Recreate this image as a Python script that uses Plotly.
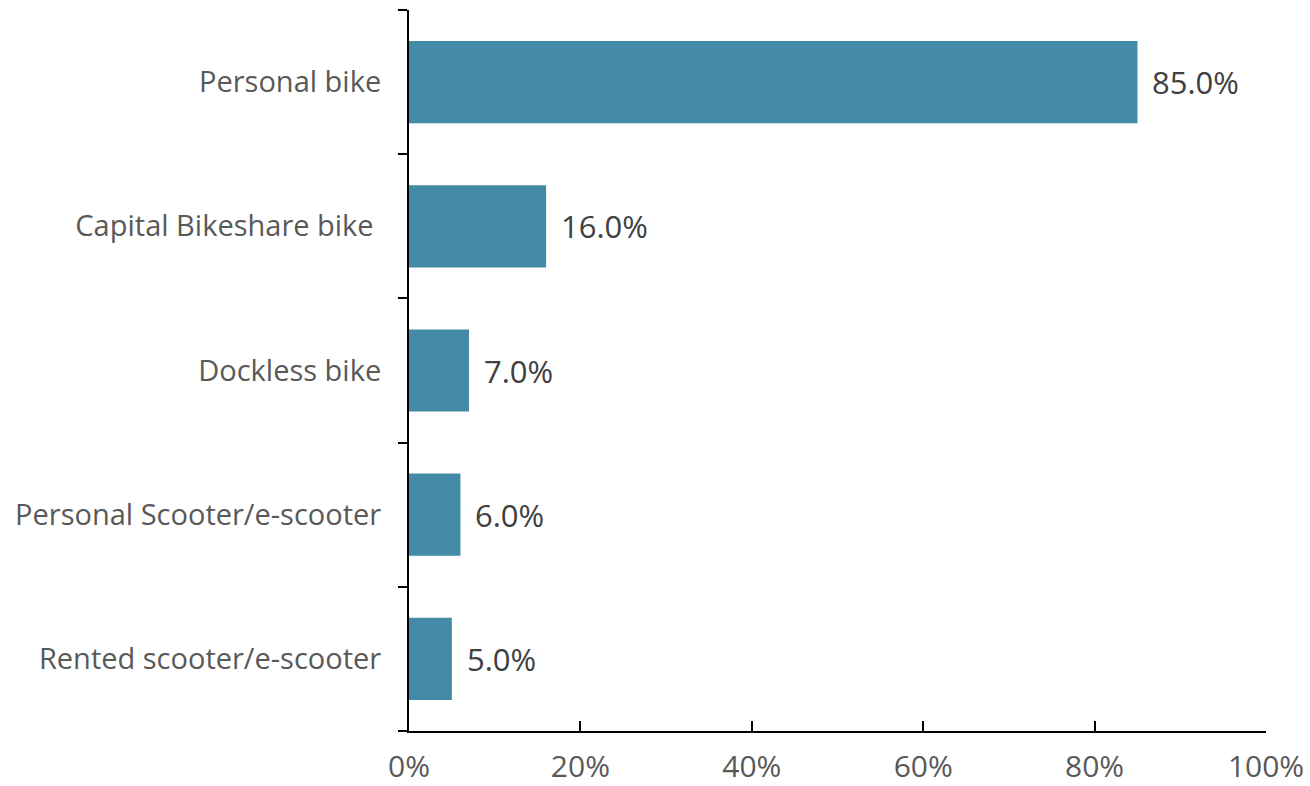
import plotly.graph_objects as go

categories = ["Personal bike", "Capital Bikeshare bike\u00a0", "Dockless bike",
              "Personal Scooter/e-scooter", "Rented scooter/e-scooter"]
values = [85.0, 16.0, 7.0, 6.0, 5.0]
x_ticks = [0, 20, 40, 60, 80, 100]
x_tick_labels = ["0%", "20%", "40%", "60%", "80%", "100%"]

FONT = "Open Sans"
fig = go.Figure()
fig.add_trace(go.Bar(
    x=values, y=categories, orientation="h",
    marker=dict(color="#438AA7", line=dict(width=0)),
    width=0.57, hoverinfo="skip",
))
for v, c in zip(values, categories):
    fig.add_annotation(x=v, y=c, text=f"{v:.1f}%", showarrow=False,
                       xanchor="left", xshift=13, yshift=0,
                       font=dict(family=FONT, size=31, color="#404040"))

fig.update_layout(
    width=1310, height=786,
    margin=dict(l=409, r=44, t=10, b=55),
    paper_bgcolor="white", plot_bgcolor="white",
    showlegend=False,
    font=dict(family=FONT, size=29, color="#595959"),
)
fig.update_xaxes(
    range=[0, 100], tickvals=x_ticks, ticktext=x_tick_labels,
    showgrid=False, zeroline=False, automargin=False,
    showline=True, linecolor="black", linewidth=2,
    ticks="inside", ticklen=10, tickwidth=2, tickcolor="black",
    ticklabelstandoff=8,
    tickfont=dict(family=FONT, size=30, color="#595959"),
)
fig.update_yaxes(
    categoryorder="array", categoryarray=categories[::-1],
    showgrid=False, zeroline=False, automargin=False,
    showline=True, linecolor="black", linewidth=2,
    ticks="outside", ticklen=9, tickwidth=2, tickcolor="black",
    tickson="boundaries", ticklabelstandoff=20,
    tickfont=dict(family=FONT, size=29, color="#595959"),
)
fig.write_html("out.html")
